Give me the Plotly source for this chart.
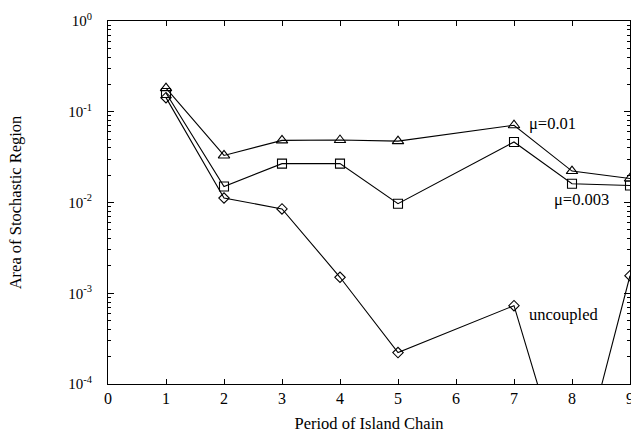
import math
import plotly.graph_objects as go

# Period of the island chain
period = [1, 2, 3, 4, 5, 7, 8, 9]

# Area of the stochastic region for each coupling strength
area_mu_001 = [0.182, 0.033, 0.0484, 0.0488, 0.0475, 0.071, 0.0222, 0.0184]
area_mu_0003 = [0.161, 0.0150, 0.0268, 0.0268, 0.0097, 0.0464, 0.0161, 0.0154]
area_uncoupled = [0.143, 0.0112, 0.0085, 0.0015, 0.000222, 0.00073, 0.0000054, 0.00156]

# Decade tick labels for the log axis
y_tickvals = [1, 0.1, 0.01, 0.001, 0.0001]
y_ticktext = ["10<sup>0</sup>", "10<sup>-1</sup>", "10<sup>-2</sup>",
              "10<sup>-3</sup>", "10<sup>-4</sup>"]
x_tickvals = list(range(0, 10))

FONT = "Liberation Serif"

fig = go.Figure()

series = [
    (area_mu_001, "triangle-up-open", 10),
    (area_mu_0003, "square-open", 9),
    (area_uncoupled, "diamond-open", 8),
]
for values, symbol, size in series:
    fig.add_trace(go.Scatter(
        x=period, y=values, mode="lines+markers",
        line=dict(color="black", width=1.1),
        marker=dict(symbol=symbol, size=size, color="black",
                    line=dict(color="black", width=1.1)),
        showlegend=False,
    ))

labels = [
    ("\u03bc=0.01", 7.23, 0.0741),
    ("\u03bc=0.003", 7.66, 0.0109),
    ("uncoupled", 7.22, 0.00059),
]
for text, x, y in labels:
    fig.add_annotation(
        x=x, y=math.log10(y), xref="x", yref="y",
        text=text, showarrow=False, xanchor="left", yanchor="middle",
        font=dict(family=FONT, size=16.5, color="black"),
    )

fig.update_xaxes(
    range=[0, 9], tickvals=x_tickvals, automargin=False,
    ticks="inside", ticklen=5, tickcolor="black", tickwidth=1,
    showline=True, linecolor="black", linewidth=1, mirror="ticks",
    showgrid=False, zeroline=False, ticklabeloverflow="allow",
    tickfont=dict(family=FONT, size=16, color="black"),
    title=dict(text="Period of Island Chain", standoff=12,
               font=dict(family=FONT, size=16.5, color="black")),
)
fig.update_yaxes(
    type="log", range=[-4, 0], automargin=False,
    tickvals=y_tickvals, ticktext=y_ticktext,
    ticks="inside", ticklen=6, tickcolor="black", tickwidth=1,
    minor=dict(ticks="inside", ticklen=3, tickcolor="black", dtick="D1"),
    showline=True, linecolor="black", linewidth=1, mirror="allticks",
    showgrid=False, zeroline=False,
    tickfont=dict(family=FONT, size=15, color="black"),
    ticklabelstandoff=12,
    title=dict(text="Area of Stochastic Region", standoff=42,
               font=dict(family=FONT, size=16.5, color="black")),
)

fig.update_layout(
    width=631, height=433,
    margin=dict(l=108, r=1, t=21, b=49),
    paper_bgcolor="white", plot_bgcolor="white",
)

fig.write_html("out.html")
